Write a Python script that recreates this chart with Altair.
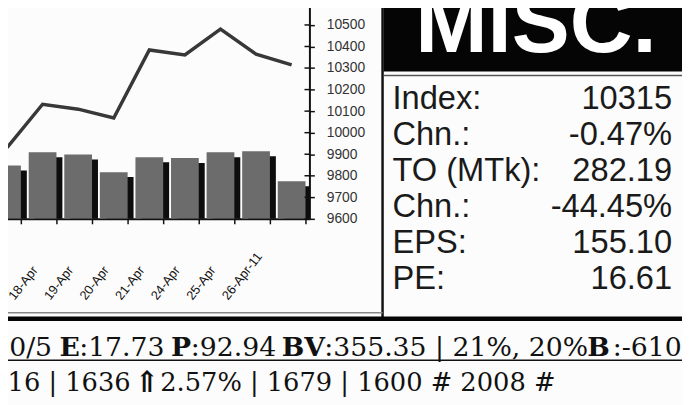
import altair as alt
import pandas as pd

# ---------------- data ----------------
dates = ["17-Apr", "18-Apr", "19-Apr", "20-Apr", "21-Apr", "24-Apr", "25-Apr", "26-Apr-11", "27-Apr"]
index_vals = [9930, 10132, 10109, 10068, 10384, 10361, 10481, 10364, 10315]
turnover = [401, 500, 483, 351, 463, 458, 500, 508, 282.19]
y_ticks = [9600, 9700, 9800, 9900, 10000, 10100, 10200, 10300, 10400, 10500, 10600]

header_text = "MISC."
stat_labels = ["Index:", "Chn.:", "TO (MTk):", "Chn.:", "EPS:", "PE:"]
stat_values = ["10315", "-0.47%", "282.19", "-44.45%", "155.10", "16.61"]

footer1_parts = ["00/5", "E", ":17.73", "P", ":92.94", "BV", ":355.35 | 21%, 20%", "B", ":-610"]
footer1_bold = [False, True, False, True, False, True, False, True, False]
footer2_parts = ["616 | 1636", "\u21d1", "2.57% | 1679 | 1600 # 2008 #"]

# ---------------- layout (svg px) ----------------
W, H = 305, 211
X_RANGE = [-19, 305]
Y_RANGE = [211, -7]
footer1_x = [-16, 52, 72, 165, 185, 277, 320, 586, 612]
footer2_x = [-17, 128, 154]

df = pd.DataFrame({"date": dates, "index": index_vals, "to": turnover})
df_ticks = pd.DataFrame({"v": y_ticks})
df_stats = pd.DataFrame({"row": list(range(len(stat_labels))), "lab": stat_labels, "val": stat_values})
one = pd.DataFrame({"a": [0]})

last_date = dates[-1]
xenc = alt.X(
    "date:N", sort=dates,
    scale=alt.Scale(domain=dates, range=X_RANGE, paddingInner=0.22, paddingOuter=0.11),
    axis=alt.Axis(
        title=None, labelAngle=-52, labelAlign="left", labelBaseline="middle",
        labelPadding=75, labelOffset=-32, tickBand="extent", tickSize=5,
        tickColor="#111", tickWidth=1.5, domainColor="#111", domainWidth=2,
        labelFont="Liberation Sans", labelFontSize=13, labelColor="#111",
        labelOverlap=False, labelExpr=f"datum.value == '{last_date}' ? '' : datum.label",
    ),
)

to_scale = alt.Scale(domain=[0, 1620], range=Y_RANGE)
idx_scale = alt.Scale(domain=[9600, 10600], range=Y_RANGE)

base = alt.Chart(df)

shadow = base.mark_bar(color="#0d0d0d", xOffset=6, yOffset=5, clip=True).encode(
    x=xenc, y=alt.Y("to:Q", scale=to_scale, axis=None)
)
bars = base.mark_bar(color="#6c6c6c", clip=True).encode(
    x=xenc, y=alt.Y("to:Q", scale=to_scale, axis=None)
)
line = base.mark_line(color="#383838", strokeWidth=3.5, clip=True).encode(
    x=xenc,
    y=alt.Y("index:Q", scale=idx_scale,
            axis=alt.Axis(orient="right", values=y_ticks, title=None, grid=False, format="d",
                          tickSize=5, tickColor="#111", tickWidth=1.5,
                          domainColor="#111", domainWidth=2,
                          labelFont="Liberation Sans", labelFontSize=14, labelColor="#333",
                          labelPadding=12, labelAlign="left")),
)
inner_ticks = alt.Chart(df_ticks).mark_rule(color="#111", strokeWidth=1.5).encode(
    y=alt.Y("v:Q", scale=idx_scale, axis=None), x=alt.value(300), x2=alt.value(305)
)

def rule(x, x2, y, y2, color, w):
    return alt.Chart(one).mark_rule(color=color, strokeWidth=w).encode(
        x=alt.value(x), x2=alt.value(x2), y=alt.value(y), y2=alt.value(y2))

header_bg = alt.Chart(one).mark_rect(color="#050505").encode(
    x=alt.value(380), x2=alt.value(682), y=alt.value(-8), y2=alt.value(62))
header = alt.Chart(one).mark_text(
    text=header_text, font="Liberation Sans", fontWeight="bold", fontSize=88,
    color="white", align="left", baseline="alphabetic"
).encode(x=alt.value(412), y=alt.value(42))

vsep = rule(379, 379, -8, 312, "#111", 2.5)
box_top = rule(380, 682, 66, 66, "#555", 1.5)
panel_bottom = rule(-8, 379, 306, 306, "#888", 1.5)
thick = rule(-8, 682, 312, 312, "#050505", 4.5)
underline = rule(-8, 682, 354, 354, "#111", 1.5)

row_y = alt.Y("row:O", scale=alt.Scale(domain=list(range(len(stat_labels))), range=[100, 282], padding=0),
              axis=None)
stat_lab = alt.Chart(df_stats).mark_text(
    font="Liberation Sans", fontSize=33, color="#1a1a1a", align="left", baseline="alphabetic"
).encode(x=alt.value(389), y=row_y, text="lab:N")
stat_val = alt.Chart(df_stats).mark_text(
    font="Liberation Sans", fontSize=33, color="#1a1a1a", align="right", baseline="alphabetic"
).encode(x=alt.value(672), y=row_y, text="val:N")

footer_layers = []
for t, b, xx in zip(footer1_parts, footer1_bold, footer1_x):
    footer_layers.append(
        alt.Chart(one).mark_text(
            text=t, font="DejaVu Serif", fontSize=27, fontWeight="bold" if b else "normal",
            color="#111", align="left", baseline="alphabetic"
        ).encode(x=alt.value(xx), y=alt.value(350))
    )
for i, (t, xx) in enumerate(zip(footer2_parts, footer2_x)):
    footer_layers.append(
        alt.Chart(one).mark_text(
            text=t, font="DejaVu Serif", fontSize=30 if i == 1 else 26,
            fontWeight="bold" if i == 1 else "normal",
            color="#111", align="left", baseline="alphabetic"
        ).encode(x=alt.value(xx), y=alt.value(386 if i == 1 else 385))
    )

chart = alt.layer(
    shadow, bars, line, inner_ticks,
    header_bg, header, vsep, box_top, panel_bottom, thick, underline,
    stat_lab, stat_val, *footer_layers,
).resolve_scale(y="independent").properties(
    width=W, height=H,
    padding={"left": 0, "top": 0, "right": 377, "bottom": 186},
    autosize=alt.AutoSizeParams(type="none"),
    background="#fcfcfc",
).configure_view(stroke=None)

chart.save("out.html", embed_options={"renderer": "svg", "actions": False})
